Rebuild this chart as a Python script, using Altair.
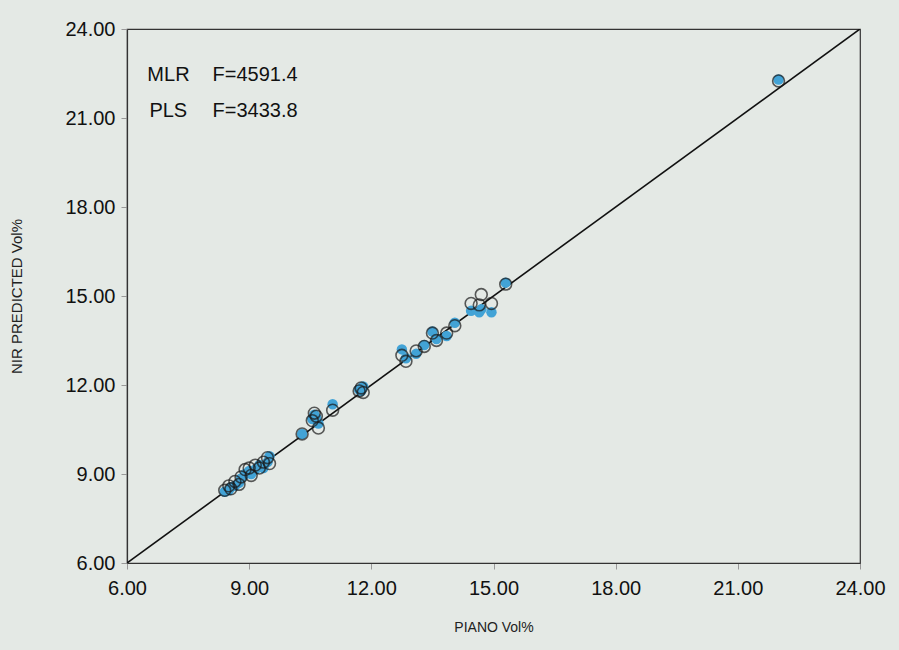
import altair as alt
import pandas as pd

# Reference (PIANO Vol%) values
piano = [8.40, 8.50, 8.55, 8.65, 8.75, 8.80, 8.90, 9.00, 9.05, 9.15, 9.25, 9.35, 9.45, 9.50,
         10.30, 10.55, 10.60, 10.65, 10.70, 11.05, 11.70, 11.75, 11.80,
         12.75, 12.85, 13.10, 13.30, 13.50, 13.60, 13.85, 14.05, 14.45, 14.65, 14.70, 14.95, 15.30, 22.00]
# MLR predictions (open black circles)
mlr = [8.45, 8.60, 8.50, 8.75, 8.65, 8.90, 9.15, 9.20, 8.95, 9.30, 9.20, 9.40, 9.55, 9.35,
       10.35, 10.80, 11.05, 10.95, 10.55, 11.15, 11.80, 11.90, 11.75,
       13.00, 12.80, 13.15, 13.30, 13.75, 13.50, 13.75, 14.00, 14.75, 14.70, 15.05, 14.75, 15.40, 22.25]
# PLS predictions (blue filled)
pls = [8.40, 8.45, 8.55, 8.60, 8.70, 8.85, 9.00, 9.10, 9.00, 9.15, 9.30, 9.20, 9.40, 9.60,
       10.35, 10.85, 11.00, 10.90, 10.70, 11.35, 11.85, 11.80, 11.95,
       13.20, 12.90, 13.05, 13.35, 13.80, 13.55, 13.65, 14.10, 14.50, 14.45, 14.55, 14.45, 15.45, 22.30]

line_x = [6.0, 24.0]
ticks = [6, 9, 12, 15, 18, 21, 24]

ann_label = ["MLR", "F=4591.4", "PLS", "F=3433.8"]
ann_x = [6.5, 8.1, 6.55, 8.1]
ann_y = [22.45, 22.45, 21.25, 21.25]

df = pd.DataFrame({"piano": piano, "mlr": mlr, "pls": pls})
dline = pd.DataFrame({"x": line_x, "y": line_x})
dann = pd.DataFrame({"label": ann_label, "x": ann_x, "y": ann_y})

FONT = "Liberation Sans"
xs = alt.Scale(domain=[6, 24], nice=False, zero=False)
ys = alt.Scale(domain=[6, 24], nice=False, zero=False)

xaxis = alt.Axis(values=ticks, format=".2f", title="PIANO Vol%", labelFontSize=20,
                 labelFont=FONT, labelColor="#111", titleFont=FONT, titleFontSize=14,
                 titleFontWeight="normal", titleColor="#222", titlePadding=22,
                 grid=False, tickColor="#999", tickSize=6, labelPadding=9, labelFlush=False,
                 domainColor="#333", domainWidth=1.2)
yaxis = alt.Axis(values=ticks, format=".2f", title="NIR PREDICTED Vol%", labelFontSize=20,
                 labelFont=FONT, labelColor="#111", titleFont=FONT, titleFontSize=15,
                 titleFontWeight="normal", titleColor="#222", titlePadding=40,
                 grid=False, tickColor="#999", tickSize=6, labelPadding=6, labelFlush=False,
                 domainColor="#333", domainWidth=1.2)

line = alt.Chart(dline).mark_line(color="#111", strokeWidth=1.6, clip=True).encode(
    x=alt.X("x:Q", scale=xs, axis=xaxis),
    y=alt.Y("y:Q", scale=ys, axis=yaxis),
)

blue = alt.Chart(df).mark_point(shape="circle", filled=True, color="#42a3d6", size=110, opacity=1).encode(
    x=alt.X("piano:Q", scale=xs),
    y=alt.Y("pls:Q", scale=ys),
)

black = alt.Chart(df).mark_point(shape="circle", filled=False, color="#1a1a1a", size=140, strokeWidth=1.6).encode(
    x=alt.X("piano:Q", scale=xs),
    y=alt.Y("mlr:Q", scale=ys),
)

text = alt.Chart(dann).mark_text(align="left", baseline="middle", font=FONT, fontSize=20, color="#111").encode(
    x=alt.X("x:Q", scale=xs),
    y=alt.Y("y:Q", scale=ys),
    text="label:N",
)

chart = alt.layer(line, blue, black, text).properties(
    width=733, height=534,
    autosize=alt.AutoSizeParams(type="none"),
    padding={"left": 127, "top": 29, "right": 39, "bottom": 87},
    background="#e4e9e5",
).configure_view(stroke="#333", strokeWidth=1.2)

chart.save("out.html", embed_options={"renderer": "svg", "actions": False})
